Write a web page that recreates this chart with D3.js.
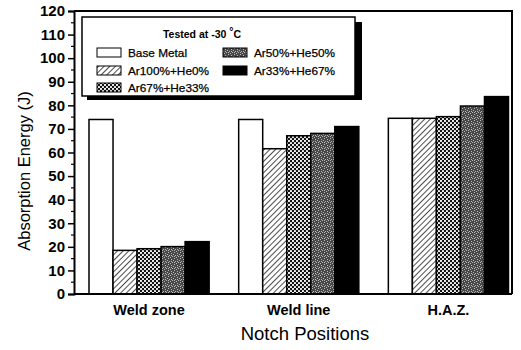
<!DOCTYPE html>
<html><head><meta charset="utf-8">
<script src="https://cdn.jsdelivr.net/npm/d3@7"></script>
<style>body{margin:0;background:#fff}svg{display:block}text{font-family:"Liberation Sans",Arial,sans-serif}</style>
</head><body><svg id="c" width="521" height="350"></svg>
<script>
const categories = ["Weld zone", "Weld line", "H.A.Z."];
const seriesNames = ["Base Metal", "Ar100%+He0%", "Ar67%+He33%", "Ar50%+He50%", "Ar33%+He67%"];
const baseMetal = [74, 74, 74.5];
const ar100 = [18.5, 61.6, 74.5];
const ar67 = [19.2, 67.1, 75.2];
const ar50 = [20.1, 68.1, 79.7];
const ar33 = [22.2, 71, 83.7];
const yTicks = [0,10,20,30,40,50,60,70,80,90,100,110,120];
const seriesValues = [baseMetal, ar100, ar67, ar50, ar33];

const svg = d3.select("#c");
const L = 74, R = 512, T = 11, B = 294;
const y = d3.scaleLinear().domain([0,120]).range([B,T]);
const x0 = d3.scaleBand().domain(categories).range([89, 508.5]).paddingInner(0.1973).paddingOuter(0);
const x1 = d3.scaleBand().domain(seriesNames).range([0, x0.bandwidth()]).padding(0);

const defs = svg.append("defs");
const ph = defs.append("pattern").attr("id","hatch").attr("patternUnits","userSpaceOnUse").attr("width",4).attr("height",4).attr("patternTransform","rotate(45)");
ph.append("rect").attr("width",4).attr("height",4).attr("fill","#fff");
ph.append("line").attr("x1",0).attr("y1",0).attr("x2",0).attr("y2",4).attr("stroke","#000").attr("stroke-width",1.4);
const pc = defs.append("pattern").attr("id","cross").attr("patternUnits","userSpaceOnUse").attr("width",4).attr("height",4);
pc.append("rect").attr("width",4).attr("height",4).attr("fill","#111");
pc.append("circle").attr("cx",1).attr("cy",1).attr("r",1.1).attr("fill","#fff");
pc.append("circle").attr("cx",3).attr("cy",3).attr("r",1.1).attr("fill","#fff");
const pg = defs.append("pattern").attr("id","gray").attr("patternUnits","userSpaceOnUse").attr("width",6).attr("height",6);
pg.append("rect").attr("width",6).attr("height",6).attr("fill","#484848");
[[0,0],[3,1],[1,3],[4,4],[5,2],[2,5],[0,4],[3,3]].forEach(p=>pg.append("rect").attr("x",p[0]).attr("y",p[1]).attr("width",1).attr("height",1).attr("fill","#b8b8b8"));
const fills = ["#fff","url(#hatch)","url(#cross)","url(#gray)","#000"];

svg.append("path").attr("d",`M${L},${T}H${R}V${B}`).attr("fill","none").attr("stroke","#000").attr("stroke-width",2);

const g = svg.append("g");
categories.forEach((c,ci)=>{
  seriesNames.forEach((s,si)=>{
    const v = seriesValues[si][ci];
    g.append("rect").attr("x",x0(c)+x1(s)).attr("y",y(v)).attr("width",x1.bandwidth()).attr("height",y(0)-y(v))
      .attr("fill",fills[si]).attr("stroke","#000").attr("stroke-width",1.5);
  });
});

const ya = svg.append("g").attr("transform",`translate(${L},0)`).call(d3.axisLeft(y).tickValues(yTicks).tickSize(6).tickPadding(3));
ya.select(".domain").attr("stroke-width",2);
ya.selectAll(".tick line").attr("stroke-width",1.5);
ya.selectAll("text").attr("font-size",15).attr("font-weight","bold").attr("fill","#000");
const minor = d3.range(5,120,10);
svg.append("g").selectAll("line").data(minor).join("line").attr("x1",L).attr("x2",L-3).attr("y1",d=>y(d)).attr("y2",d=>y(d)).attr("stroke","#000").attr("stroke-width",1.2);

svg.append("line").attr("x1",L).attr("x2",R).attr("y1",B).attr("y2",B).attr("stroke","#000").attr("stroke-width",2);
svg.append("g").selectAll("text").data(categories).join("text")
  .attr("x",d=>x0(d)+x0.bandwidth()/2).attr("y",315).attr("text-anchor","middle").attr("font-size",14.5).attr("font-weight","bold").text(d=>d);

svg.append("text").attr("x",305).attr("y",340).attr("text-anchor","middle").attr("font-size",18.5).text("Notch Positions");
svg.append("text").attr("transform","translate(30,171) rotate(-90)").attr("text-anchor","middle").attr("font-size",16.5).text("Absorption Energy (J)");

const lg = svg.append("g");
lg.append("rect").attr("x",87).attr("y",22).attr("width",275).attr("height",78).attr("fill","#000");
lg.append("rect").attr("x",82).attr("y",17).attr("width",273).attr("height",79).attr("fill","#fff").attr("stroke","#000").attr("stroke-width",1.5);
const title = lg.append("text").attr("x",202).attr("y",38).attr("text-anchor","middle").attr("font-size",10.5).attr("font-weight","bold");
title.append("tspan").text("Tested  at  -30 ");
title.append("tspan").attr("dy",-3).text("°");
title.append("tspan").attr("dy",3).text("C");
const pos = [[97,48],[97,66],[97,83],[223,48],[223,66]];
seriesNames.forEach((s,i)=>{
  lg.append("rect").attr("x",pos[i][0]).attr("y",pos[i][1]).attr("width",24).attr("height",9).attr("fill",fills[i]).attr("stroke","#000").attr("stroke-width",1);
  lg.append("text").attr("x",pos[i][0]+31).attr("y",pos[i][1]+8.5).attr("font-size",11.8).attr("stroke","#000").attr("stroke-width",0.25).text(s);
});
</script></body></html>
